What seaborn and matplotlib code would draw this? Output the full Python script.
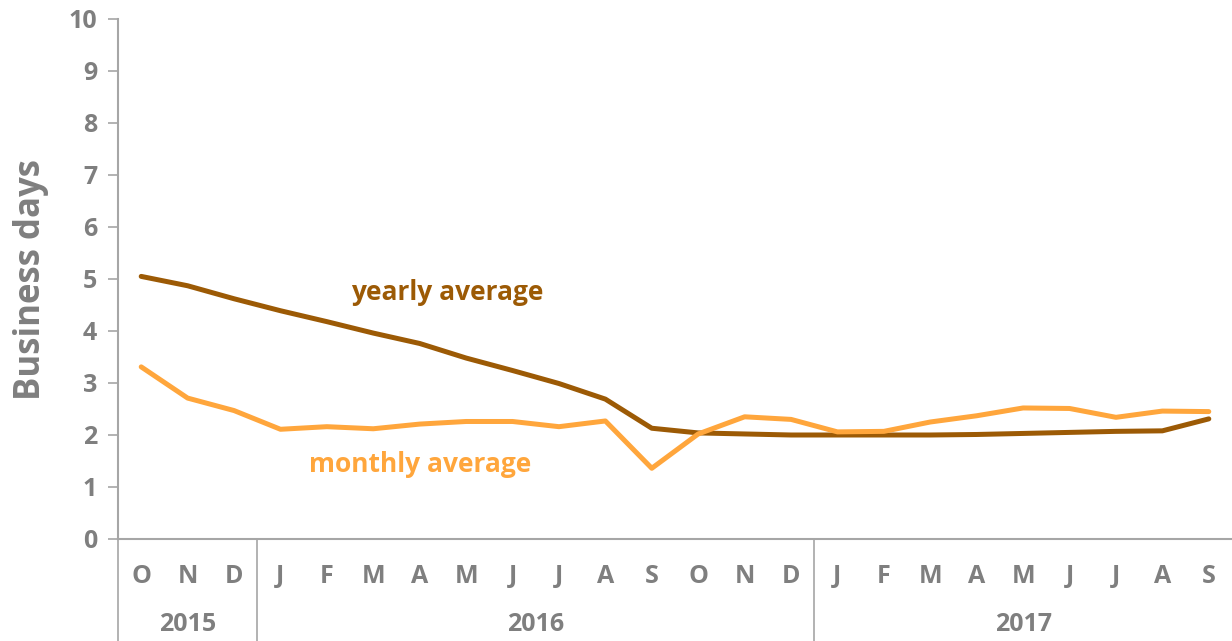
import matplotlib
matplotlib.use("Agg")
import matplotlib.pyplot as plt
import matplotlib.transforms as mtransforms
import pandas as pd
import seaborn as sns

months = ["O", "N", "D", "J", "F", "M", "A", "M", "J", "J", "A", "S",
          "O", "N", "D", "J", "F", "M", "A", "M", "J", "J", "A", "S"]
years = ["2015", "2016", "2017"]
year_spans = [(0, 2), (3, 14), (15, 23)]

yearly_avg = [5.05, 4.87, 4.62, 4.39, 4.18, 3.96, 3.76, 3.48, 3.24, 2.99, 2.69, 2.13,
              2.04, 2.02, 2.00, 2.00, 2.00, 2.00, 2.01, 2.03, 2.05, 2.07, 2.08, 2.31]
monthly_avg = [3.31, 2.71, 2.47, 2.11, 2.16, 2.12, 2.21, 2.26, 2.26, 2.16, 2.27, 1.36,
               2.02, 2.35, 2.30, 2.06, 2.07, 2.25, 2.37, 2.52, 2.51, 2.34, 2.46, 2.45]

dark = "#9C5A05"
orange = "#FFA63C"
grey = "#7F7F7F"

df = pd.DataFrame({
    "pos": list(range(len(months))) * 2,
    "value": yearly_avg + monthly_avg,
    "series": ["yearly average"] * len(months) + ["monthly average"] * len(months),
})

sns.set_style("white")
plt.rcParams["font.family"] = ["Open Sans", "DejaVu Sans"]

fig = plt.figure(figsize=(12.32, 6.41), dpi=100)
ax = fig.add_axes([118 / 1232, 102 / 641, 1114 / 1232, 520 / 641])

sns.lineplot(data=df, x="pos", y="value", hue="series",
             palette={"yearly average": dark, "monthly average": orange},
             linewidth=3.6, legend=False, ax=ax)

ax.set_xlim(-0.5, len(months) - 0.5)
ax.set_ylim(0, 10)
ax.set_yticks(range(0, 11))
ax.set_xticks(range(len(months)))
ax.set_xticklabels(months)

for s in ["top", "right"]:
    ax.spines[s].set_visible(False)
for s in ["left", "bottom"]:
    ax.spines[s].set_color("#A6A6A6")
    ax.spines[s].set_linewidth(1.5)

ax.tick_params(axis="y", length=7, width=1.2, color="#A6A6A6", labelsize=18,
               labelcolor=grey, pad=8, left=True)
ax.tick_params(axis="x", length=0, labelsize=18, labelcolor=grey, pad=18)
for lab in ax.get_xticklabels() + ax.get_yticklabels():
    lab.set_fontweight("bold")

ax.set_xlabel("")
ax.set_ylabel("Business days", fontsize=25, fontweight="bold", color=grey, labelpad=14)

# year group labels and dividers below the axis
trans = mtransforms.blended_transform_factory(ax.transData, ax.transAxes)
for (a, b), yr in zip(year_spans, years):
    ax.text((a + b) / 2, -0.165, yr, transform=trans, ha="center", va="center",
            fontsize=18, fontweight="bold", color=grey)
for x in [-0.5, 2.5, 14.5]:
    ax.plot([x, x], [0, -0.2], transform=trans, color="#A6A6A6", lw=1.2, clip_on=False)

ax.text(6.6, 4.75, "yearly average", color=dark, fontsize=19, fontweight="bold",
        ha="center", va="center")
ax.text(6.0, 1.43, "monthly average", color=orange, fontsize=19, fontweight="bold",
        ha="center", va="center")

fig.savefig("out.png", dpi=100)
